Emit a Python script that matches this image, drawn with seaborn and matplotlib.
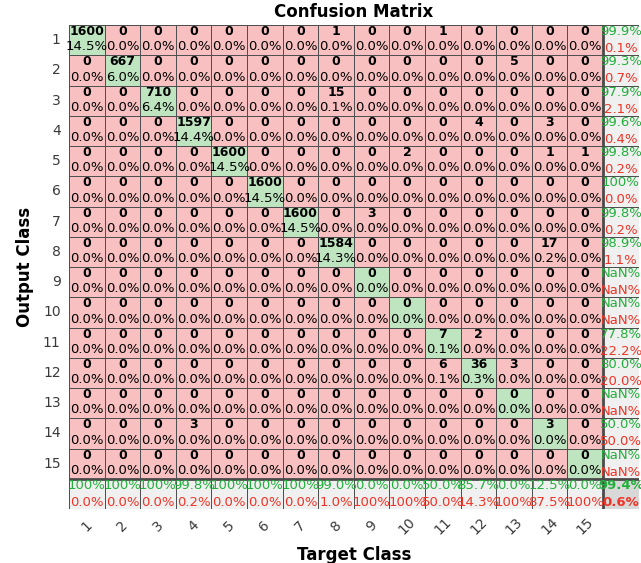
import numpy as np
import matplotlib
matplotlib.use("Agg")
import matplotlib.pyplot as plt
from matplotlib.colors import ListedColormap
import seaborn as sns

# Class names shown on both axes
class_labels = [str(i) for i in range(1, 16)]

# Counts: rows = output (predicted) class, columns = target (true) class
confusion = [
    [1600, 0, 0, 0, 0, 0, 0, 1, 0, 0, 1, 0, 0, 0, 0],
    [0, 667, 0, 0, 0, 0, 0, 0, 0, 0, 0, 0, 5, 0, 0],
    [0, 0, 710, 0, 0, 0, 0, 15, 0, 0, 0, 0, 0, 0, 0],
    [0, 0, 0, 1597, 0, 0, 0, 0, 0, 0, 0, 4, 0, 3, 0],
    [0, 0, 0, 0, 1600, 0, 0, 0, 0, 2, 0, 0, 0, 1, 1],
    [0, 0, 0, 0, 0, 1600, 0, 0, 0, 0, 0, 0, 0, 0, 0],
    [0, 0, 0, 0, 0, 0, 1600, 0, 3, 0, 0, 0, 0, 0, 0],
    [0, 0, 0, 0, 0, 0, 0, 1584, 0, 0, 0, 0, 0, 17, 0],
    [0, 0, 0, 0, 0, 0, 0, 0, 0, 0, 0, 0, 0, 0, 0],
    [0, 0, 0, 0, 0, 0, 0, 0, 0, 0, 0, 0, 0, 0, 0],
    [0, 0, 0, 0, 0, 0, 0, 0, 0, 0, 7, 2, 0, 0, 0],
    [0, 0, 0, 0, 0, 0, 0, 0, 0, 0, 6, 36, 3, 0, 0],
    [0, 0, 0, 0, 0, 0, 0, 0, 0, 0, 0, 0, 0, 0, 0],
    [0, 0, 0, 3, 0, 0, 0, 0, 0, 0, 0, 0, 0, 3, 0],
    [0, 0, 0, 0, 0, 0, 0, 0, 0, 0, 0, 0, 0, 0, 0],
]

cm = np.array(confusion, dtype=float)
n = cm.shape[0]
total = cm.sum()
diag = np.diag(cm)
row_sum = cm.sum(axis=1)
col_sum = cm.sum(axis=0)
with np.errstate(invalid="ignore", divide="ignore"):
    row_acc = 100 * diag / row_sum
    col_acc = 100 * diag / col_sum
overall_acc = 100 * diag.sum() / total


def fmt_pct(v):
    if np.isnan(v):
        return "NaN%"
    if round(v, 1) == 100:
        return "100%"
    return f"{v:.1f}%"


def err_pct(v):
    return "NaN%" if np.isnan(v) else fmt_pct(100 - v)


# Cell colour codes: 0 off-diagonal, 1 diagonal, 2 summary, 3 overall
codes = np.zeros((n + 1, n + 1))
codes[np.arange(n), np.arange(n)] = 1
codes[n, :] = 2
codes[:, n] = 2
codes[n, n] = 3
cmap = ListedColormap(["#f8c0c0", "#bfe5c0", "#f0f0f0", "#d8d8d8"])

W, H = 641, 563
fig = plt.figure(figsize=(W / 100, H / 100), dpi=100)
ax = fig.add_axes([69 / W, 54 / H, 569.6 / W, 484 / H])

sns.heatmap(codes, cmap=cmap, vmin=-0.5, vmax=3.5, cbar=False,
            linewidths=0.6, linecolor="#505050", ax=ax)

green = "#22b03c"
red = "#ee3426"
count_kw = dict(ha="center", va="center", fontsize=9, fontweight="bold", color="black")
pct_kw = dict(ha="center", va="center", fontsize=9.5, color="black")

for i in range(n):
    for j in range(n):
        ax.text(j + 0.5, i + 0.22, f"{int(cm[i, j])}", **count_kw)
        ax.text(j + 0.5, i + 0.72, f"{100 * cm[i, j] / total:.1f}%", **pct_kw)

for i in range(n):
    ax.text(n + 0.5, i + 0.22, fmt_pct(row_acc[i]), ha="center", va="center",
            fontsize=9.5, color=green)
    ax.text(n + 0.5, i + 0.78, err_pct(row_acc[i]), ha="center", va="center",
            fontsize=9.5, color=red)
for j in range(n):
    ax.text(j + 0.5, n + 0.22, fmt_pct(col_acc[j]), ha="center", va="center",
            fontsize=9.5, color=green)
    ax.text(j + 0.5, n + 0.78, err_pct(col_acc[j]), ha="center", va="center",
            fontsize=9.5, color=red)
ax.text(n + 0.5, n + 0.22, fmt_pct(overall_acc), ha="center", va="center",
        fontsize=9.5, fontweight="bold", color=green)
ax.text(n + 0.5, n + 0.78, fmt_pct(100 - overall_acc), ha="center", va="center",
        fontsize=9.5, fontweight="bold", color=red)

# Heavier lines around the summary row and column
ax.axvline(n, color="#4a4a4a", lw=2.0)
ax.axhline(n, color="#4a4a4a", lw=2.0)

ax.set_xticks(np.arange(n) + 0.5)
ax.set_yticks(np.arange(n) + 0.5)
ax.set_xticklabels(class_labels, rotation=45, ha="center", va="center",
                   fontsize=10, color="#3a3a3a")
ax.set_yticklabels(class_labels, rotation=0, fontsize=10, color="#3a3a3a")
ax.tick_params(axis="x", length=0, pad=12)
ax.tick_params(axis="y", length=0, pad=6)

ax.set_title("Confusion Matrix", fontsize=12, fontweight="bold", pad=6)
ax.set_xlabel("Target Class", fontsize=12, fontweight="bold")
ax.set_ylabel("Output Class", fontsize=12, fontweight="bold")
ax.xaxis.set_label_coords(0.5, -0.077)
ax.yaxis.set_label_coords(-0.062, 0.5)

fig.savefig("out.png", dpi=100)
